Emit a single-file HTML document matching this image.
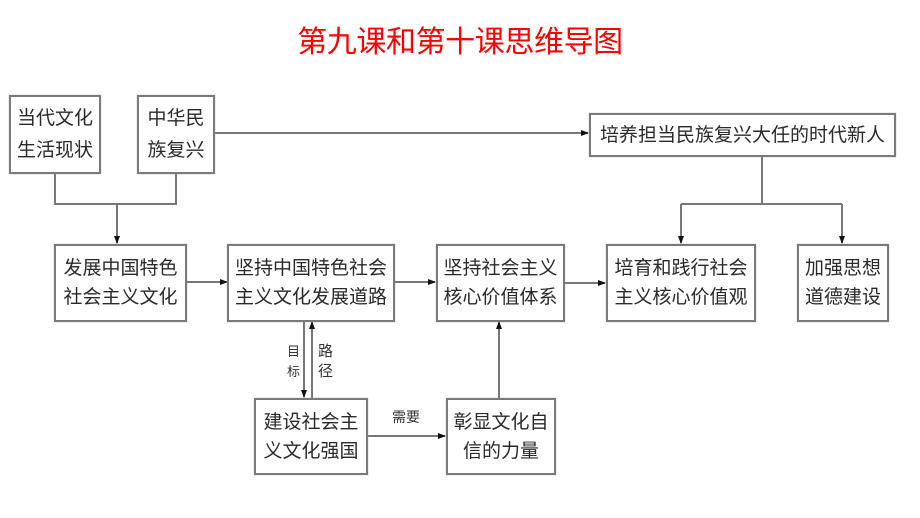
<!DOCTYPE html>
<html><head><meta charset="utf-8">
<style>
html,body{margin:0;padding:0;background:#fff;}
body{width:920px;height:518px;position:relative;overflow:hidden;font-family:"Liberation Sans","Noto Sans CJK SC",sans-serif;}
.t{position:absolute;left:0;width:920px;top:24px;text-align:center;color:#f00;font-size:30px;line-height:38px;letter-spacing:-0.4px;font-family:"Liberation Sans","Noto Sans CJK SC",sans-serif;}
.b{position:absolute;box-sizing:border-box;border:2px solid #7a7a7a;background:#fff;display:flex;align-items:center;justify-content:center;text-align:center;color:#2a2a2a;font-size:19px;line-height:29px;box-shadow:0 0 1px #aaa;}
.l{position:absolute;color:#333;font-size:14px;line-height:20px;}
svg{position:absolute;left:0;top:0;}
</style></head><body>
<div class="t">第九课和第十课思维导图</div>
<svg width="920" height="518">
<defs><marker id="a" markerWidth="8" markerHeight="8" refX="7" refY="4" orient="auto" markerUnits="userSpaceOnUse"><path d="M0,1 L8,4 L0,7 Z" fill="#111"/></marker></defs>
<g stroke="#777" stroke-width="2" fill="none">
<path d="M55,173 V204 H176 V173"/>
<path d="M117,204 V243" marker-end="url(#a)"/>
<path d="M214,133 H588" marker-end="url(#a)"/>
<path d="M762,156 V204"/>
<path d="M681,204 H842"/>
<path d="M681,204 V243" marker-end="url(#a)"/>
<path d="M842,204 V243" marker-end="url(#a)"/>
<path d="M186,282 H227" marker-end="url(#a)"/>
<path d="M394,282 H435" marker-end="url(#a)"/>
<path d="M564,283 H605" marker-end="url(#a)"/>
<path d="M304,321 V397" marker-end="url(#a)"/>
<path d="M312,398 V322" marker-end="url(#a)"/>
<path d="M367,436 H445" marker-end="url(#a)"/>
<path d="M499,398 V322" marker-end="url(#a)"/>
</g>
</svg>
<div class="b" style="left:9px;top:95px;width:92px;height:79px;line-height:32px;">当代文化<br>生活现状</div>
<div class="b" style="left:137px;top:95px;width:78px;height:79px;line-height:32px;">中华民<br>族复兴</div>
<div class="b" style="left:589px;top:113px;width:307px;height:44px;">培养担当民族复兴大任的时代新人</div>
<div class="b" style="left:54px;top:244px;width:133px;height:78px;">发展中国特色<br>社会主义文化</div>
<div class="b" style="left:227px;top:244px;width:168px;height:78px;">坚持中国特色社会<br>主义文化发展道路</div>
<div class="b" style="left:436px;top:244px;width:129px;height:78px;">坚持社会主义<br>核心价值体系</div>
<div class="b" style="left:606px;top:244px;width:150px;height:78px;">培育和践行社会<br>主义核心价值观</div>
<div class="b" style="left:797px;top:244px;width:92px;height:78px;">加强思想<br>道德建设</div>
<div class="b" style="left:254px;top:398px;width:114px;height:77px;">建设社会主<br>义文化强国</div>
<div class="b" style="left:446px;top:398px;width:110px;height:77px;">彰显文化自<br>信的力量</div>
<div class="l" style="left:287px;top:342px;width:14px;font-size:13px;">目<br>标</div>
<div class="l" style="left:318px;top:342px;width:16px;font-size:15px;">路<br>径</div>
<div class="l" style="left:392px;top:407px;">需要</div>
</body></html>
